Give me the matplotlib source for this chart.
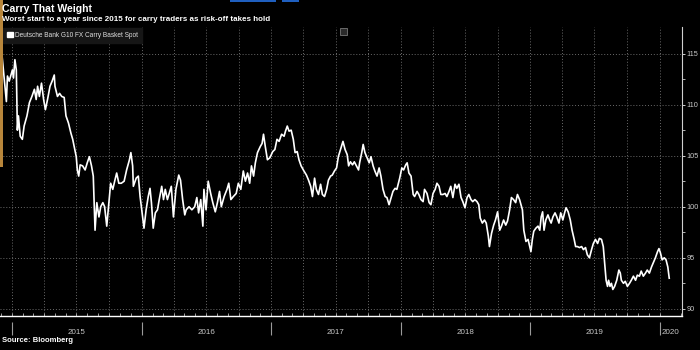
import matplotlib.pyplot as plt
import matplotlib.dates as mdates
import matplotlib.patches as mpatches
import matplotlib.transforms as mtransforms
import pandas as pd

# Deutsche Bank G10 FX Carry Basket Spot
dates = [
    "2014-12-04", "2014-12-16", "2014-12-19", "2014-12-24", "2015-01-02", "2015-01-05",
    "2015-01-09", "2015-01-13", "2015-01-16", "2015-01-19", "2015-01-24", "2015-01-30",
    "2015-02-04", "2015-02-12", "2015-02-19", "2015-02-26", "2015-03-05", "2015-03-10",
    "2015-03-14", "2015-03-19", "2015-03-25", "2015-03-31", "2015-04-05", "2015-04-11",
    "2015-04-18", "2015-04-24", "2015-04-30", "2015-05-02", "2015-05-09", "2015-05-15",
    "2015-05-21", "2015-05-28", "2015-06-02", "2015-06-09", "2015-06-16", "2015-06-21",
    "2015-06-25", "2015-07-01", "2015-07-04", "2015-07-08", "2015-07-12", "2015-07-19",
    "2015-07-26", "2015-08-01", "2015-08-07", "2015-08-13", "2015-08-18", "2015-08-23",
    "2015-08-28", "2015-09-03", "2015-09-08", "2015-09-14", "2015-09-19", "2015-09-25",
    "2015-10-01", "2015-10-06", "2015-10-12", "2015-10-18", "2015-10-23", "2015-10-29",
    "2015-11-05", "2015-11-13", "2015-11-20", "2015-11-28", "2015-12-02", "2015-12-07",
    "2015-12-09", "2015-12-17", "2015-12-23", "2015-12-28",
    "2016-01-04", "2016-01-08", "2016-01-14", "2016-01-20", "2016-01-25", "2016-01-29",
    "2016-02-03", "2016-02-09", "2016-02-15", "2016-02-20", "2016-02-27", "2016-03-03",
    "2016-03-08", "2016-03-14", "2016-03-19", "2016-03-25", "2016-03-31", "2016-04-07",
    "2016-04-15", "2016-04-20", "2016-04-26", "2016-05-02", "2016-05-06", "2016-05-14",
    "2016-05-22", "2016-05-30", "2016-06-05", "2016-06-10", "2016-06-16", "2016-06-22",
    "2016-06-25", "2016-07-01", "2016-07-07", "2016-07-14", "2016-07-20", "2016-07-27",
    "2016-08-02", "2016-08-08", "2016-08-13", "2016-08-21", "2016-08-29", "2016-09-03",
    "2016-09-09", "2016-09-16", "2016-09-24", "2016-09-30", "2016-10-07", "2016-10-14",
    "2016-10-20", "2016-10-26", "2016-11-01", "2016-11-06", "2016-11-12", "2016-11-17",
    "2016-11-23", "2016-12-01", "2016-12-06", "2016-12-10", "2016-12-15", "2016-12-21",
    "2016-12-28",
    "2017-01-05", "2017-01-11", "2017-01-17", "2017-01-23", "2017-01-30", "2017-02-06",
    "2017-02-10", "2017-02-15", "2017-02-20", "2017-02-26", "2017-03-04", "2017-03-09",
    "2017-03-15", "2017-03-20", "2017-03-26", "2017-04-03", "2017-04-10", "2017-04-16",
    "2017-04-22", "2017-04-27", "2017-05-03", "2017-05-08", "2017-05-14", "2017-05-20",
    "2017-05-25", "2017-05-31", "2017-06-06", "2017-06-11", "2017-06-17", "2017-06-22",
    "2017-06-28", "2017-07-04", "2017-07-09", "2017-07-15", "2017-07-22", "2017-07-28",
    "2017-08-03", "2017-08-07", "2017-08-12", "2017-08-18", "2017-08-23", "2017-08-29",
    "2017-09-04", "2017-09-07", "2017-09-13", "2017-09-17", "2017-09-22", "2017-09-28",
    "2017-10-04", "2017-10-09", "2017-10-15", "2017-10-20", "2017-10-26", "2017-11-01",
    "2017-11-06", "2017-11-12", "2017-11-18", "2017-11-23", "2017-11-29", "2017-12-05",
    "2017-12-10", "2017-12-16", "2017-12-21", "2017-12-29",
    "2018-01-04", "2018-01-09", "2018-01-15", "2018-01-19", "2018-01-24", "2018-01-30",
    "2018-02-05", "2018-02-09", "2018-02-16", "2018-02-21", "2018-02-27", "2018-03-05",
    "2018-03-09", "2018-03-16", "2018-03-22", "2018-03-27", "2018-04-02", "2018-04-08",
    "2018-04-13", "2018-04-19", "2018-04-24", "2018-04-30", "2018-05-06", "2018-05-11",
    "2018-05-17", "2018-05-22", "2018-05-28", "2018-06-03", "2018-06-08", "2018-06-14",
    "2018-06-20", "2018-06-25", "2018-07-01", "2018-07-07", "2018-07-12", "2018-07-18",
    "2018-07-23", "2018-07-29", "2018-08-04", "2018-08-09", "2018-08-13", "2018-08-19",
    "2018-08-25", "2018-08-30", "2018-09-05", "2018-09-08", "2018-09-14", "2018-09-20",
    "2018-09-25", "2018-10-01", "2018-10-07", "2018-10-12", "2018-10-18", "2018-10-24",
    "2018-10-29", "2018-11-04", "2018-11-09", "2018-11-15", "2018-11-21", "2018-11-26",
    "2018-12-02", "2018-12-10", "2018-12-14", "2018-12-20", "2018-12-26",
    "2019-01-03", "2019-01-07", "2019-01-11", "2019-01-17", "2019-01-23", "2019-01-28",
    "2019-02-01", "2019-02-05", "2019-02-09", "2019-02-14", "2019-02-20", "2019-02-25",
    "2019-03-01", "2019-03-06", "2019-03-12", "2019-03-17", "2019-03-23", "2019-03-28",
    "2019-04-03", "2019-04-08", "2019-04-12", "2019-04-18", "2019-04-24", "2019-04-29",
    "2019-05-05", "2019-05-09", "2019-05-14", "2019-05-20", "2019-05-26", "2019-05-31",
    "2019-06-06", "2019-06-11", "2019-06-17", "2019-06-23", "2019-06-28", "2019-07-04",
    "2019-07-10", "2019-07-15", "2019-07-21", "2019-07-26", "2019-07-30", "2019-08-03",
    "2019-08-07", "2019-08-10", "2019-08-14", "2019-08-18", "2019-08-22", "2019-08-27",
    "2019-09-02", "2019-09-08", "2019-09-12", "2019-09-15", "2019-09-21", "2019-09-26",
    "2019-10-02", "2019-10-08", "2019-10-13", "2019-10-19", "2019-10-25", "2019-10-30",
    "2019-11-05", "2019-11-10", "2019-11-16", "2019-11-22", "2019-11-27", "2019-12-03",
    "2019-12-09", "2019-12-14", "2019-12-20", "2019-12-26", "2019-12-30",
    "2020-01-03", "2020-01-08", "2020-01-14", "2020-01-19", "2020-01-24", "2020-01-28",
]
values = [
    114.7, 110.3, 112.8, 112.3, 113.4, 112.6,
    114.4, 113.4, 107.5, 108.9, 106.9, 106.6,
    107.9, 108.9, 110.2, 110.8, 111.5, 110.5,
    111.8, 110.8, 112.1, 110.5, 109.5, 110.5,
    111.8, 112.3, 112.9, 111.8, 110.8, 111.1,
    110.8, 110.7, 108.9, 108.2, 107.2, 106.6,
    105.9, 104.9, 103.6, 103.0, 104.1, 104.0,
    103.6, 104.3, 104.9, 104.0, 103.0, 97.7,
    100.4, 99.0, 100.0, 100.4, 100.0, 98.1,
    100.4, 102.3, 101.7, 102.6, 103.3, 102.3,
    102.3, 102.5, 103.6, 104.6, 105.3, 104.0,
    102.0, 102.8, 103.0, 101.0,
    99.0, 97.9, 99.7, 101.0, 101.8, 100.4,
    97.9, 99.4, 99.7, 100.7, 102.0, 100.7,
    101.7, 100.7, 101.3, 102.0, 99.0, 101.7,
    103.1, 102.6, 100.7, 99.2, 99.7, 100.0,
    99.7, 100.0, 100.9, 99.4, 100.7, 98.1,
    101.7, 99.7, 102.5, 101.3, 100.4, 99.5,
    100.4, 101.5, 100.0, 101.0, 101.7, 102.3,
    100.7, 101.0, 101.3, 102.3, 101.7, 103.5,
    102.5, 103.3, 102.3, 104.0, 103.0, 104.3,
    105.3, 105.9, 106.2, 107.1, 105.9, 104.6,
    104.8,
    105.4, 105.6, 106.6, 106.4, 107.1, 106.9,
    107.4, 107.9, 107.4, 107.5, 106.6, 105.3,
    105.4, 104.6, 104.0, 103.5, 103.1, 102.6,
    102.0, 101.0, 102.8, 101.7, 101.2, 102.2,
    101.2, 101.0, 101.7, 102.6, 103.0, 103.1,
    103.5, 103.8, 104.9, 105.6, 106.4, 105.6,
    105.1, 104.0, 104.4, 104.1, 104.4, 104.0,
    103.6, 104.3, 105.3, 106.1, 105.3, 104.8,
    104.3, 104.9, 104.0, 103.5, 103.0, 103.8,
    103.0, 101.7, 101.0, 100.9, 100.2, 100.9,
    101.5, 101.8, 101.7, 102.8,
    103.8, 103.6, 104.1, 104.3, 103.3, 103.0,
    101.2, 101.0, 101.5, 101.2, 100.7, 100.5,
    101.7, 101.3, 100.4, 100.2, 101.3, 101.7,
    102.3, 102.0, 101.2, 101.2, 101.3, 101.0,
    101.5, 102.0, 100.9, 102.2, 101.8, 102.2,
    100.9, 100.5, 99.9, 100.9, 101.2, 100.7,
    100.5, 100.7, 100.5, 100.2, 98.9, 98.4,
    98.7, 98.4, 97.1, 96.1, 97.4, 98.2,
    98.7, 99.5, 97.7, 98.1, 98.7, 98.2,
    98.6, 99.7, 100.9, 100.7, 100.4, 101.2,
    100.7, 99.7, 97.7, 96.6, 96.8,
    95.6, 96.8, 97.6, 97.9, 98.1, 97.7,
    99.0, 99.5, 97.7, 98.7, 99.2, 98.7,
    98.4, 99.0, 99.4, 99.0, 98.4, 99.4,
    98.7, 99.4, 99.9, 99.5, 98.7, 97.7,
    96.8, 96.1, 96.1, 96.0, 96.1, 95.8,
    96.0, 95.3, 95.0, 95.8, 96.4, 96.8,
    96.4, 96.9, 96.8, 96.1, 94.5, 92.8,
    92.2, 92.8, 92.2, 92.5, 91.9, 92.2,
    92.8, 93.8, 93.5, 92.8, 92.5, 92.7,
    92.2, 92.5, 92.8, 93.2, 92.8, 93.3,
    93.2, 93.7, 93.2, 93.5, 93.8, 93.5,
    94.1, 94.5, 95.0, 95.6, 95.9,
    95.5, 94.8, 95.0, 94.8, 94.1, 93.0,
]

year_labels = ["2015", "2016", "2017", "2018", "2019", "2020"]
label_dates = ["2015-07-02", "2016-07-02", "2017-07-02", "2018-07-02", "2019-07-02", "2020-02-01"]
year_starts = ["2015-01-01", "2016-01-01", "2017-01-01", "2018-01-01", "2019-01-01", "2020-01-01"]
y_ticks = [90, 95, 100, 105, 110, 115]

title = "Carry That Weight"
subtitle = "Worst start to a year since 2015 for carry traders as risk-off takes hold"
series_name = "Deutsche Bank G10 FX Carry Basket Spot"
source = "Source: Bloomberg"

plt.rcParams['font.family'] = ['Liberation Sans', 'DejaVu Sans']

W, H = 700, 350
fig = plt.figure(figsize=(7, 3.5), dpi=100, facecolor='black')
ax = fig.add_axes([0, 1 - 316 / H, 682 / W, (316 - 27) / H])
ax.set_facecolor('black')

x = pd.to_datetime(dates)
ax.plot(x, values, color='white', lw=1.2, zorder=3)

ax.set_xlim(pd.Timestamp("2014-11-28"), pd.Timestamp("2020-03-04"))
ax.set_ylim(89.3, 117.6)

# gridlines
grid_kw = dict(color='#6a6a6a', lw=0.7, linestyle=(0, (1, 2)), zorder=1)
for v in y_ticks:
    ax.axhline(v, **grid_kw)
for q in pd.date_range("2015-01-01", "2020-01-01", freq="QS"):
    ax.axvline(q, **grid_kw)

# spines
for s in ['top', 'left']:
    ax.spines[s].set_visible(False)
ax.spines['bottom'].set_color('white')
ax.spines['bottom'].set_linewidth(1.0)
ax.spines['right'].set_color('#cfcfcf')
ax.spines['right'].set_linewidth(0.8)

# y axis on the right
ax.yaxis.tick_right()
ax.set_yticks(y_ticks)
ax.set_yticks([92.5, 97.5, 102.5, 107.5, 112.5], minor=True)
ax.tick_params(axis='y', which='major', direction='out', length=2.5, width=0.7,
               color='#cfcfcf', labelcolor='#c8c8c8', labelsize=5.3, pad=0.6)
ax.tick_params(axis='y', which='minor', direction='out', length=1.8, width=0.6,
               color='#cfcfcf')

# x axis: monthly ticks, year labels centred in each year
ax.xaxis.set_minor_locator(mdates.MonthLocator())
ax.set_xticks(pd.to_datetime(label_dates))
ax.set_xticklabels(year_labels)
ax.tick_params(axis='x', which='major', length=0, labelcolor='#c8c8c8',
               labelsize=5.8, pad=9)
ax.tick_params(axis='x', which='minor', direction='in', length=2, width=0.6,
               color='#bbbbbb')

trans = mtransforms.blended_transform_factory(ax.transData, ax.transAxes)
ax.vlines(pd.to_datetime(year_starts), -0.066, -0.021, color='#9a9a9a', lw=0.8,
          transform=trans, clip_on=False)

# legend
handle = mpatches.Patch(facecolor='white', edgecolor='white', label=series_name)
leg = ax.legend(handles=[handle], loc='upper left', bbox_to_anchor=(3 / W, 1 - 28 / H),
                bbox_transform=fig.transFigure, fontsize=4.7, frameon=True,
                facecolor='#161616', edgecolor='#161616', framealpha=1,
                handlelength=0.9, handleheight=0.9, handletextpad=0.3,
                borderpad=0.6, borderaxespad=0, fancybox=False)
for t in leg.get_texts():
    t.set_color('#e0e0e0')

# small chart-type icon
fig.patches.append(mpatches.Rectangle((340 / W, 1 - 35 / H), 7 / W, 7 / H,
                                      transform=fig.transFigure, facecolor='#2a2a2a',
                                      edgecolor='#777777', lw=0.6))

# orange bar on the left edge and blue tabs at the top
fig.patches.append(mpatches.Rectangle((0, 1 - 167 / H), 3 / W, 167 / H,
                                      transform=fig.transFigure, facecolor='#b8863b',
                                      edgecolor='none'))
fig.patches.append(mpatches.Rectangle((230 / W, 1 - 1.5 / H), 46 / W, 1.5 / H,
                                      transform=fig.transFigure, facecolor='#1f5fbf',
                                      edgecolor='none'))
fig.patches.append(mpatches.Rectangle((282 / W, 1 - 1.5 / H), 17 / W, 1.5 / H,
                                      transform=fig.transFigure, facecolor='#1f5fbf',
                                      edgecolor='none'))

fig.text(2 / W, 1 - 9 / H, title, color='white', fontsize=7.6, fontweight='bold',
         ha='left', va='center')
fig.text(2 / W, 1 - 19.5 / H, subtitle, color='white', fontsize=5.8, fontweight='bold',
         ha='left', va='center')
fig.text(2 / W, 1 - 340 / H, source, color='white', fontsize=5.5, fontweight='bold',
         ha='left', va='center')

fig.savefig("out.png", dpi=100, facecolor='black')
